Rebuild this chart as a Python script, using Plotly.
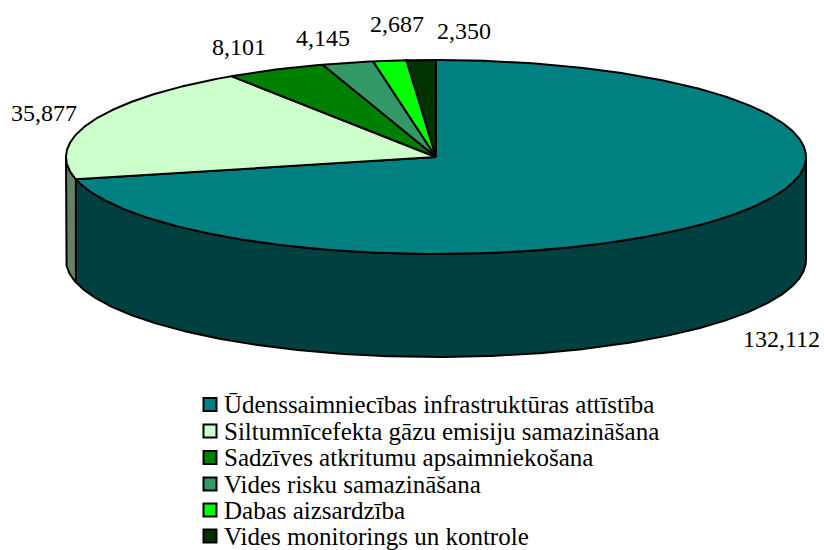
import numpy as np
import plotly.graph_objects as go

categories = ["Ūdenssaimniecības infrastruktūras attīstība",
              "Siltumnīcefekta gāzu emisiju samazināšana",
              "Sadzīves atkritumu apsaimniekošana",
              "Vides risku samazināšana",
              "Dabas aizsardzība",
              "Vides monitorings un kontrole"]
values = [132112, 35877, 8101, 4145, 2687, 2350]
colors = ["#008080", "#CCFFCC", "#008000", "#339966", "#00FF00", "#003300"]
side_colors = ["#004040", "#668066", "#004000", "#1A4D33", "#008000", "#001A00"]
label_x = [781, 44, 239, 323, 397, 464]
label_y = [339, 113, 47, 38, 24, 31]
legend_y = [404.5, 431, 457.5, 484, 510, 536]

CX, CY, RX, RY, DEPTH = 436, 157, 370, 97, 103
FONT = "Liberation Serif"


def rim(a0, a1, dy=0):
    t = np.radians(np.linspace(a0, a1, max(2, int(abs(a1 - a0) * 2))))
    return CX + RX * np.sin(t), CY + dy - RY * np.cos(t)


fig = go.Figure()
edges = np.concatenate([[0], np.cumsum(values)]) / sum(values) * 360

# visible side wall, front half of the disc only
for i in range(len(values)):
    a0, a1 = max(edges[i], 90), min(edges[i + 1], 270)
    if a1 <= a0:
        continue
    xt, yt = rim(a0, a1)
    xb, yb = rim(a1, a0, DEPTH)
    fig.add_trace(go.Scatter(
        x=np.r_[xt, xb, xt[0]], y=np.r_[yt, yb, yt[0]], mode="lines", fill="toself",
        fillcolor=side_colors[i], line=dict(color="black", width=2),
        showlegend=False, hoverinfo="skip"))

# top face
for i in range(len(values)):
    xt, yt = rim(edges[i], edges[i + 1])
    fig.add_trace(go.Scatter(
        x=np.r_[CX, xt, CX], y=np.r_[CY, yt, CY], mode="lines", fill="toself",
        fillcolor=colors[i], line=dict(color="black", width=2),
        showlegend=False, name=categories[i], hoverinfo="skip"))

# legend: swatches and names
for name, col, ly in zip(categories, colors, legend_y):
    fig.add_trace(go.Scatter(
        x=[210], y=[ly], mode="markers", name=name, showlegend=False,
        marker=dict(symbol="square", size=13, color=col, line=dict(color="black", width=2))))
    fig.add_annotation(x=225, y=ly, text=name, showarrow=False, xanchor="left", xshift=-3,
                       font=dict(family=FONT, size=25, color="black"))

for v, lx, ly in zip(values, label_x, label_y):
    fig.add_annotation(x=lx, y=ly, text=f"{v:,}", showarrow=False,
                       font=dict(family=FONT, size=24, color="black"))

fig.update_layout(
    width=824, height=550, margin=dict(l=0, r=0, t=0, b=0),
    paper_bgcolor="white", plot_bgcolor="white", showlegend=False,
    xaxis=dict(range=[0, 824], visible=False, fixedrange=True),
    yaxis=dict(range=[550, 0], visible=False, fixedrange=True),
)
fig.write_html("out.html", post_script="document.body.style.margin='0';",
               config={"displayModeBar": False})
